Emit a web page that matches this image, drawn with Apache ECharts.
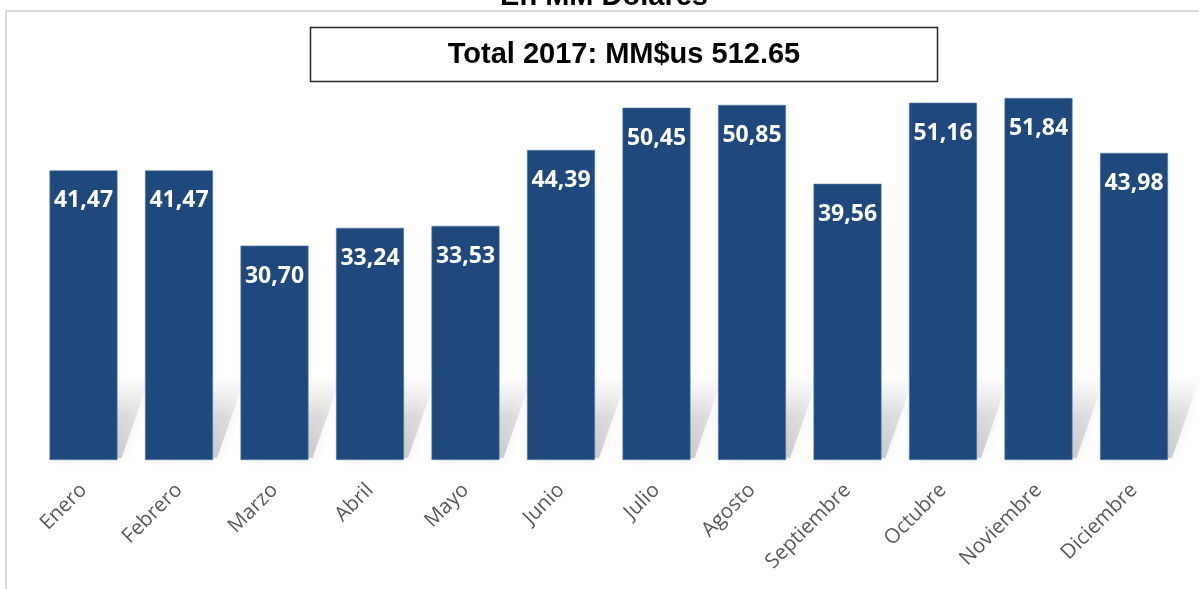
<!DOCTYPE html>
<html>
<head>
<meta charset="utf-8">
<script src="https://cdn.jsdelivr.net/npm/echarts@6/dist/echarts.min.js"></script>
<style>
html,body{margin:0;padding:0;background:#fff;}
#c{width:1199px;height:589px;}
</style>
</head>
<body>
<div id="c"></div>
<script>
const months = ['Enero','Febrero','Marzo','Abril','Mayo','Junio','Julio','Agosto','Septiembre','Octubre','Noviembre','Diciembre'];
const values = [41.47, 41.47, 30.70, 33.24, 33.53, 44.39, 50.45, 50.85, 39.56, 51.16, 51.84, 43.98];
const titleText = 'En MM Dólares';
const totalText = 'Total 2017: MM$us 512.65';

const chart = echarts.init(document.getElementById('c'), null, {renderer:'canvas'});
const fmt = v => v.toFixed(2).replace('.', ',');

chart.setOption({
  backgroundColor: '#ffffff',
  animation: false,
  grid: {left: 35.75, right: 17.25, top: 41, bottom: 129},
  xAxis: {
    type: 'category',
    data: months,
    axisLine: {show: false},
    axisTick: {show: false},
    axisLabel: {rotate: 45, margin: 27, fontSize: 20.5, color: '#595959', fontFamily: '"Open Sans"', interval: 0}
  },
  yAxis: {
    type: 'value', min: 0, max: 60, interval: 10,
    show: false, splitLine: {show: false}
  },
  graphic: [
    {type: 'rect', z: -10, silent: true, shape: {x: 6, y: 11, width: 1400, height: 800},
     style: {fill: 'none', stroke: '#d9d9d9', lineWidth: 2}},
    {type: 'text', z: 10, style: {text: titleText, x: 604, y: 11, textAlign: 'center', textVerticalAlign: 'bottom',
      font: 'bold 29px "Liberation Sans", Arial', fill: '#000'}},
    {type: 'rect', z: 10, shape: {x: 310.5, y: 27.5, width: 627, height: 54},
     style: {fill: '#fff', stroke: '#262626', lineWidth: 1.5}},
    {type: 'text', z: 11, style: {text: totalText, x: 624, y: 55, textAlign: 'center', textVerticalAlign: 'middle',
      font: 'bold 29px "Liberation Sans", Arial', fill: '#000'}}
  ],
  series: [
    {
      type: 'custom',
      z: 1,
      silent: true,
      data: values.map((v, i) => [i, v]),
      renderItem: function (params, api) {
        const base = api.coord([api.value(0), 0]);
        const w = api.size([1, 0])[0] * 0.712;
        const x0 = base[0] - w / 2, x1 = base[0] + w / 2, y = base[1];
        const d = 88, sx = 34;
        return {
          type: 'polygon',
          shape: {points: [[x0 + 6, y - 2], [x1 + 4, y - 2], [x1 + sx, y - d], [x0 + sx, y - d]]},
          style: {
            fill: new echarts.graphic.LinearGradient(0, 1, 0, 0, [
              {offset: 0, color: 'rgba(140,140,140,0.40)'},
              {offset: 0.5, color: 'rgba(160,160,160,0.28)'},
              {offset: 1, color: 'rgba(210,210,210,0)'}
            ]),
            shadowBlur: 14,
            shadowColor: 'rgba(120,120,120,0.35)'
          }
        };
      }
    },
    {
      type: 'bar',
      z: 2,
      data: values,
      barWidth: 68,
      itemStyle: {color: '#1F497D', borderColor: '#5d7ea8', borderWidth: 0.6},
      label: {
        show: true, position: 'insideTop', distance: 19,
        formatter: p => fmt(p.value),
        color: '#ffffff', fontWeight: 'bold', fontSize: 23, fontFamily: '"Open Sans"'
      }
    }
  ]
});
</script>
</body>
</html>
